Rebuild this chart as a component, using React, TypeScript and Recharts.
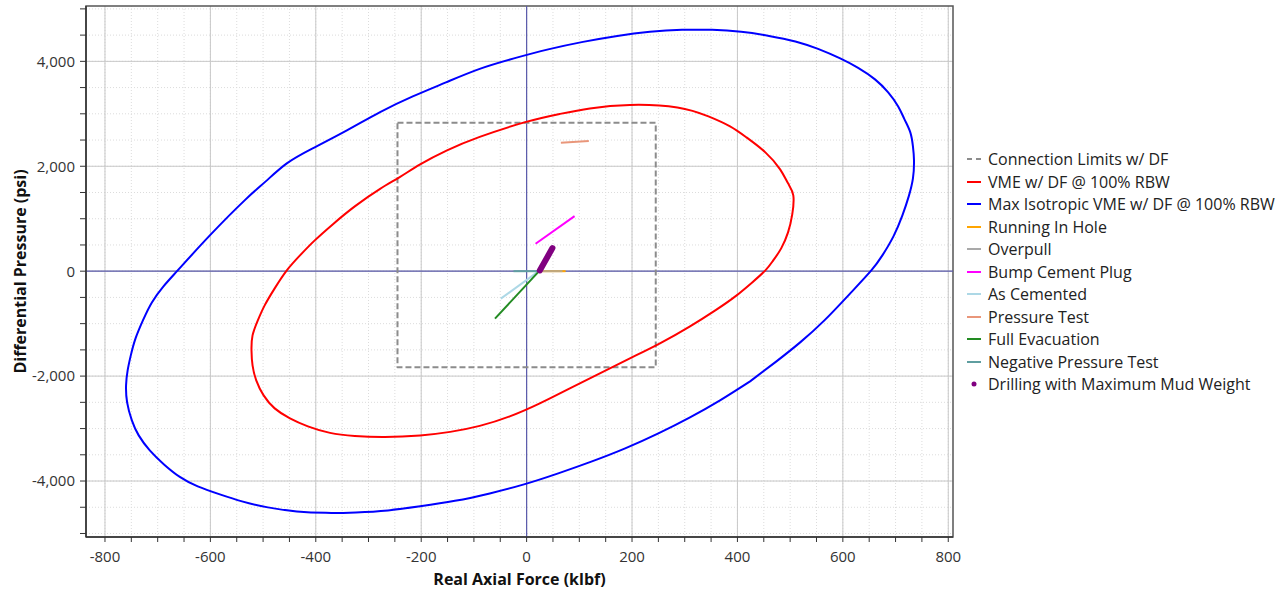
import {
  ScatterChart,
  Scatter,
  XAxis,
  YAxis,
  CartesianGrid,
  ReferenceLine,
  ReferenceArea,
  Label,
} from 'recharts'

type Pair = [number, number]

// axial force (klbf) vs differential pressure (psi)
const connectionLimits: Pair[] = [
  [-245, 2830], [245, 2830], [245, -1830], [-245, -1830], [-245, 2830],
]

// closed envelopes; each one starts and ends on its straight lower-right flank
const vmeEnvelope: Pair[] = [
  [139, -1948], [82, -2234], [25, -2520], [-32, -2768], [-89, -2949], [-145, -3063],
  [-202, -3130], [-269, -3159], [-326, -3140], [-373, -3082], [-415, -2958],
  [-449, -2806], [-478, -2615], [-499, -2368], [-513, -2082], [-520, -1796],
  [-522, -1510], [-520, -1224], [-510, -938], [-497, -652], [-478, -328],
  [-455, 15], [-430, 301], [-402, 587], [-368, 892], [-326, 1235], [-278, 1569],
  [-240, 1798], [-202, 2036], [-151, 2303], [-89, 2560], [-1, 2846], [63, 2998],
  [120, 3103], [196, 3170], [286, 3122], [345, 2951], [386, 2760], [417, 2551],
  [453, 2265], [481, 1941], [496, 1674], [506, 1445], [504, 1083], [496, 740],
  [483, 435], [468, 206], [453, 15], [428, -214], [396, -480], [358, -747],
  [310, -1052], [253, -1376], [196, -1662], [139, -1948],
]

const maxIsoEnvelope: Pair[] = [
  [424, -2101], [367, -2463], [310, -2787], [250, -3092], [187, -3378],
  [124, -3626], [60, -3854], [-5, -4064], [-70, -4236], [-136, -4378], [-202, -4483],
  [-263, -4560], [-324, -4598], [-381, -4607], [-436, -4579], [-491, -4502],
  [-540, -4388], [-582, -4255], [-624, -4102], [-658, -3921], [-688, -3683],
  [-715, -3416], [-736, -3130], [-749, -2844], [-758, -2501], [-760, -2177],
  [-757, -1891], [-751, -1605], [-742, -1281], [-728, -938], [-711, -595],
  [-689, -290], [-662, 15], [-601, 682], [-535, 1350], [-495, 1712], [-455, 2055],
  [-406, 2341], [-341, 2684], [-278, 3033], [-216, 3332], [-153, 3599], [-89, 3856],
  [-24, 4056], [41, 4228], [107, 4371], [172, 4485], [234, 4562], [295, 4600],
  [352, 4600], [407, 4562], [460, 4485], [510, 4380], [553, 4237], [595, 4056],
  [629, 3875], [661, 3656], [686, 3408], [705, 3141], [717, 2894], [728, 2646],
  [733, 2379], [735, 2112], [733, 1769], [725, 1426], [713, 1064], [696, 663],
  [675, 301], [654, 15], [614, -423], [565, -938], [519, -1357], [474, -1719],
  [424, -2101],
]

const runningInHole: Pair[] = [[25, 0], [74, 0]]
const overpull: Pair[] = [[25, 0], [68, 0]]
const bumpCementPlug: Pair[] = [[17, 524], [91, 1050]]
const asCemented: Pair[] = [[25, 15], [-49, -524]]
const pressureTest: Pair[] = [[65, 2450], [118, 2480]]
const fullEvacuation: Pair[] = [[25, 15], [-60, -905]]
const negativePressureTest: Pair[] = [[-25, 0], [25, 0]]
const drillingMaxMud: Pair[] = [[25, 15], [49, 440]]

const xMajor = [-800, -600, -400, -200, 0, 200, 400, 600, 800]
const yMajor = [-4000, -2000, 0, 2000, 4000]
const xMinor = Array.from({ length: 33 }, (_, i) => -800 + i * 50)
const yMinor = Array.from({ length: 21 }, (_, i) => -5000 + i * 500)

const X_DOMAIN: [number, number] = [-836, 809]
const Y_DOMAIN: [number, number] = [-5067, 5055]

const FONT = '"Open Sans", "Noto Sans", sans-serif'

const toPts = (arr: Pair[]) => arr.map(([x, y]) => ({ x, y }))
const noMarker = () => <g />

type SeriesDef = {
  name: string
  data: Pair[]
  color: string
  width: number
  dash?: string
  kind: 'line' | 'dash' | 'dot'
  smooth?: boolean
  opacity?: number
}

const series: SeriesDef[] = [
  { name: 'Connection Limits w/ DF', data: connectionLimits, color: '#8c8c8c', width: 2, dash: '6 3', kind: 'dash' },
  { name: 'VME w/ DF @ 100% RBW', data: vmeEnvelope, color: '#ff0000', width: 2, kind: 'line', smooth: true },
  { name: 'Max Isotropic VME w/ DF @ 100% RBW', data: maxIsoEnvelope, color: '#0000ff', width: 2, kind: 'line', smooth: true },
  { name: 'Running In Hole', data: runningInHole, color: '#ffa500', width: 2, kind: 'line' },
  { name: 'Overpull', data: overpull, color: '#a9a9a9', width: 2, kind: 'line', opacity: 0.75 },
  { name: 'Bump Cement Plug', data: bumpCementPlug, color: '#ff00ff', width: 2, kind: 'line' },
  { name: 'As Cemented', data: asCemented, color: '#add8e6', width: 2, kind: 'line' },
  { name: 'Pressure Test', data: pressureTest, color: '#e9967a', width: 2, kind: 'line' },
  { name: 'Full Evacuation', data: fullEvacuation, color: '#228b22', width: 2, kind: 'line' },
  { name: 'Negative Pressure Test', data: negativePressureTest, color: '#5f9ea0', width: 2, kind: 'line' },
  { name: 'Drilling with Maximum Mud Weight', data: drillingMaxMud, color: '#800080', width: 6, kind: 'dot' },
]

const XTick = (props: any) => {
  const { x, y, payload } = props
  if (payload.value % 200 !== 0) return <g />
  return (
    <text x={x} y={y} dy="0.71em" textAnchor="middle" fontFamily={FONT} fontSize={15} fill="#333">
      {payload.value}
    </text>
  )
}

const YTick = (props: any) => {
  const { x, y, payload } = props
  if (payload.value % 2000 !== 0) return <g />
  return (
    <text x={x} y={y} dy="0.355em" textAnchor="end" fontFamily={FONT} fontSize={15} fill="#333">
      {payload.value.toLocaleString('en-US')}
    </text>
  )
}

function LegendSymbol({ s }: { s: SeriesDef }) {
  if (s.kind === 'dot') {
    return (
      <svg width={16} height={10}>
        <circle cx={8} cy={5} r={2.5} fill={s.color} />
      </svg>
    )
  }
  return (
    <svg width={16} height={10}>
      <line
        x1={1}
        x2={15}
        y1={5}
        y2={5}
        stroke={s.color}
        strokeWidth={2}
        strokeDasharray={s.kind === 'dash' ? '5 4' : undefined}
      />
    </svg>
  )
}

export default function App() {
  return (
    <div style={{ position: 'absolute', left: 0, top: 0, width: 1287, height: 596, background: '#fff' }}>
      <ScatterChart width={1287} height={596} margin={{ top: 6, right: 334, bottom: 0, left: 0 }}>
        <CartesianGrid
          horizontalValues={yMinor}
          verticalValues={xMinor}
          stroke="#dcdcdc"
          strokeDasharray="1 2"
        />
        <CartesianGrid horizontalValues={yMajor} verticalValues={xMajor} stroke="#c8c8c8" />
        <XAxis
          type="number"
          dataKey="x"
          domain={X_DOMAIN}
          allowDataOverflow
          ticks={xMinor}
          interval={0}
          height={59}
          tickSize={5}
          tickMargin={9}
          tick={<XTick />}
          axisLine={{ stroke: '#333', strokeWidth: 1.5 }}
          tickLine={{ stroke: '#333' }}
        >
          <Label
            value="Real Axial Force (klbf)"
            position="insideBottom"
            offset={11}
            style={{ fontFamily: FONT, fontSize: 16, fontWeight: 700, fill: '#111' }}
          />
        </XAxis>
        <YAxis
          type="number"
          dataKey="y"
          domain={Y_DOMAIN}
          allowDataOverflow
          ticks={yMinor}
          interval={0}
          width={86}
          tickSize={6}
          tickMargin={5}
          tick={<YTick />}
          axisLine={{ stroke: '#333', strokeWidth: 1.5 }}
          tickLine={{ stroke: '#333' }}
        >
          <Label
            value="Differential Pressure (psi)"
            angle={-90}
            position="insideLeft"
            offset={20}
            style={{ fontFamily: FONT, fontSize: 16, fontWeight: 700, fill: '#111', textAnchor: 'middle' }}
          />
        </YAxis>
        <ReferenceArea
          x1={X_DOMAIN[0]}
          x2={X_DOMAIN[1]}
          y1={Y_DOMAIN[0]}
          y2={Y_DOMAIN[1]}
          fill="none"
          stroke="#555"
          strokeWidth={1.5}
        />
        <ReferenceLine x={0} stroke="#5c5cac" strokeWidth={1.2} />
        <ReferenceLine y={0} stroke="#5c5cac" strokeWidth={1.2} />
        {series.map((s) => (
          <Scatter
            key={s.name}
            name={s.name}
            data={toPts(s.data)}
            fill={s.color}
            shape={noMarker}
            lineType="joint"
            lineJointType={s.smooth ? 'natural' : 'linear'}
            line={{
              stroke: s.color,
              strokeWidth: s.width,
              strokeDasharray: s.dash,
              strokeLinecap: s.kind === 'dot' ? 'round' : 'butt',
              strokeLinejoin: 'round',
              strokeOpacity: s.opacity ?? 1,
            }}
            isAnimationActive={false}
          />
        ))}
      </ScatterChart>
      <div
        style={{
          position: 'absolute',
          left: 966,
          top: 148,
          fontFamily: FONT,
          fontSize: 16,
          color: '#222',
        }}
      >
        {series.map((s) => (
          <div key={s.name} style={{ display: 'flex', alignItems: 'center', height: 22.5, whiteSpace: 'nowrap' }}>
            <LegendSymbol s={s} />
            <span style={{ marginLeft: 6 }}>{s.name}</span>
          </div>
        ))}
      </div>
    </div>
  )
}
